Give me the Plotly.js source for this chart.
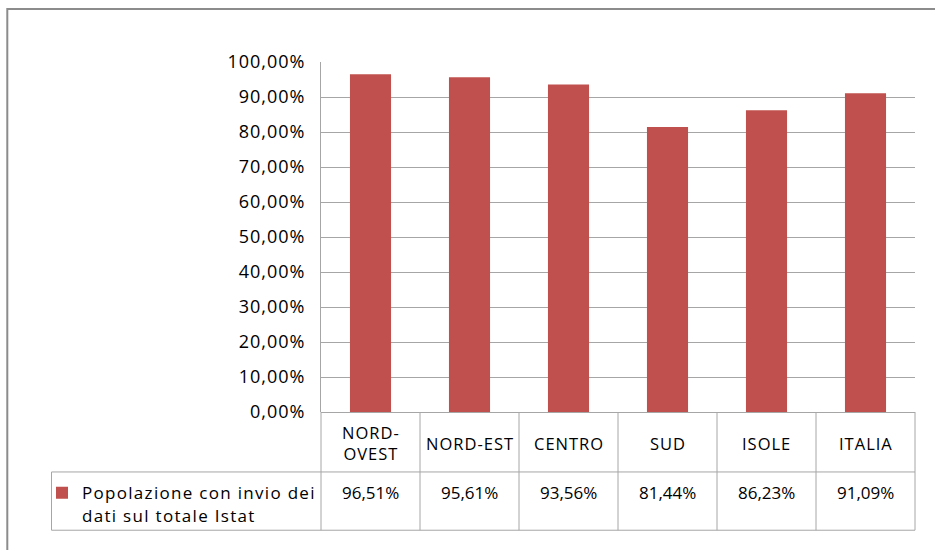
<!DOCTYPE html>
<html>
<head>
<meta charset="utf-8">
<script src="https://cdn.plot.ly/plotly-3.0.1.min.js"></script>
<style>
html,body{margin:0;padding:0;background:#fff;}
#chart{width:935px;height:550px;}
.legendtext{letter-spacing:1.3px;}
.ytick text{letter-spacing:1px;}
</style>
</head>
<body>
<div id="chart"></div>
<script>
// ---- data ----
var categories = ['NORD-OVEST', 'NORD-EST', 'CENTRO', 'SUD', 'ISOLE', 'ITALIA'];
var headerLabels = ['NORD-<br>OVEST', 'NORD-EST', 'CENTRO', 'SUD', 'ISOLE', 'ITALIA'];
var values = [96.51, 95.61, 93.56, 81.44, 86.23, 91.09];
var seriesName = 'Popolazione con invio dei<br>dati sul totale Istat';
var yTickVals = [0, 10, 20, 30, 40, 50, 60, 70, 80, 90, 100];

// ---- styling ----
var barColor = '#C0504D';
var gridColor = '#a6a6a6';
var fontFam = 'Open Sans, Liberation Sans, sans-serif';

// layout geometry (pixels -> paper)
var W = 935, H = 550;
var mL = 321, mR = 20, mT = 61.5, mB = 138.3;
var plotW = W - mL - mR, plotH = H - mT - mB;
function py(pxY) { return (H - mB - pxY) / plotH; }   // pixel y -> paper y
function px(pxX) { return (pxX - mL) / plotW; }       // pixel x -> paper x

var fmt = function (v) { return v.toFixed(2).replace('.', ',') + '%'; };
var yTickText = yTickVals.map(fmt);

var trace = {
  type: 'bar',
  x: categories,
  y: values,
  name: seriesName,
  marker: { color: barColor, line: { width: 0 } },
  hoverinfo: 'x+y',
  showlegend: true
};

var shapes = [];
var lineStyle = { color: gridColor, width: 1 };
var headerBottom = py(471.7);
var rowBottom = py(530);
var legendLeft = px(51.5);

// table horizontal lines
shapes.push({ type: 'line', xref: 'paper', yref: 'paper', x0: legendLeft, x1: 1, y0: headerBottom, y1: headerBottom, line: lineStyle });
shapes.push({ type: 'line', xref: 'paper', yref: 'paper', x0: legendLeft, x1: 1, y0: rowBottom, y1: rowBottom, line: lineStyle });
// legend cell left border
shapes.push({ type: 'line', xref: 'paper', yref: 'paper', x0: legendLeft, x1: legendLeft, y0: headerBottom, y1: rowBottom, line: lineStyle });
// table outer vertical borders (axis domain edges)
shapes.push({ type: 'line', xref: 'x domain', yref: 'paper', x0: 0, x1: 0, y0: 0, y1: rowBottom, line: lineStyle });
shapes.push({ type: 'line', xref: 'x domain', yref: 'paper', x0: 1, x1: 1, y0: 0, y1: rowBottom, line: lineStyle });
// inner category separators
for (var i = 1; i < categories.length; i++) {
  shapes.push({ type: 'line', xref: 'x', yref: 'paper', x0: i - 0.5, x1: i - 0.5, y0: 0, y1: rowBottom, line: lineStyle });
}
// outer chart-area border
shapes.push({ type: 'rect', xref: 'paper', yref: 'paper', x0: px(7.3), x1: px(960), y0: py(600), y1: py(8.5),
  line: { color: '#8c8c8c', width: 2 }, fillcolor: 'rgba(0,0,0,0)', layer: 'below' });

var annotations = [];
for (var j = 0; j < categories.length; j++) {
  annotations.push({ xref: 'x', yref: 'paper', x: categories[j], y: py(443),
    text: '<span style="letter-spacing:1px">' + headerLabels[j].split('<br>').join('</span><br><span style="letter-spacing:1px">') + '</span>',
    showarrow: false, xanchor: 'center', yanchor: 'middle', align: 'center',
    font: { family: fontFam, size: 16.5, color: '#000' } });
  annotations.push({ xref: 'x', yref: 'paper', x: categories[j], y: py(492.5), text: fmt(values[j]),
    showarrow: false, xanchor: 'center', yanchor: 'middle',
    font: { family: fontFam, size: 17, color: '#000' } });
}

var layout = {
  width: W, height: H,
  margin: { l: mL, r: mR, t: mT, b: mB, pad: 0 },
  paper_bgcolor: '#fff', plot_bgcolor: '#fff',
  separators: ',.',
  bargap: 0.585,
  font: { family: fontFam, color: '#000' },
  xaxis: {
    type: 'category', range: [-0.5, 5.5], fixedrange: true,
    showticklabels: false, showgrid: false, zeroline: false, ticks: '',
    showline: false
  },
  yaxis: {
    range: [0, 100], tickvals: yTickVals, ticktext: yTickText,
    showgrid: true, gridcolor: gridColor, gridwidth: 1,
    showline: true, linecolor: gridColor, linewidth: 1,
    zeroline: true, zerolinecolor: gridColor, zerolinewidth: 1,
    ticks: '', ticklabelstandoff: 11,
    tickfont: { family: fontFam, size: 18, color: '#000' },
    fixedrange: true
  },
  showlegend: true,
  legend: {
    x: px(42), y: py(475), xanchor: 'left', yanchor: 'top',
    valign: 'top', bgcolor: 'rgba(0,0,0,0)', borderwidth: 0,
    font: { family: fontFam, size: 17, color: '#000' },
    itemclick: false, itemdoubleclick: false
  },
  shapes: shapes,
  annotations: annotations
};

Plotly.newPlot('chart', [trace], layout, { displayModeBar: false, staticPlot: true });
</script>
</body>
</html>
